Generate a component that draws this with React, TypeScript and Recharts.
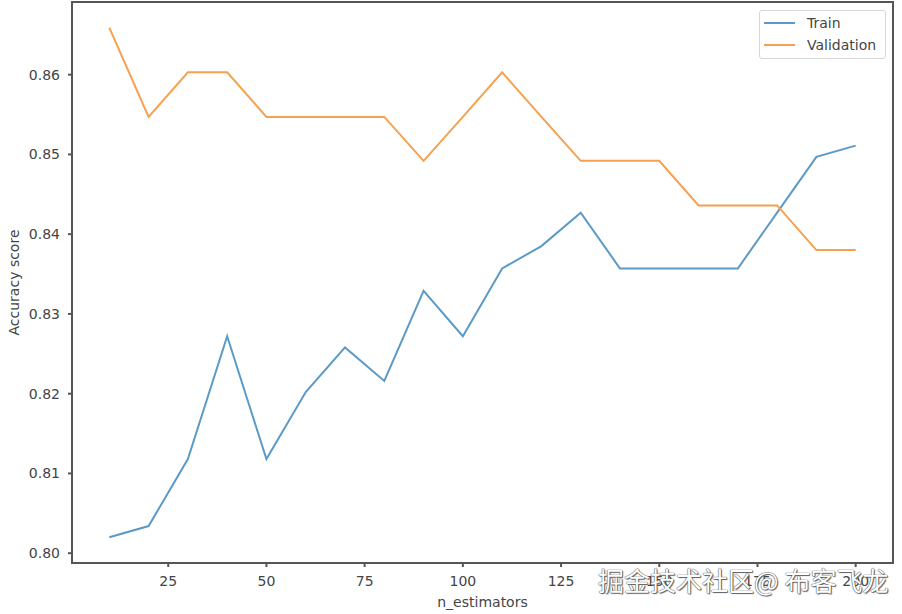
import { LineChart, Line, XAxis, YAxis, Legend, ReferenceArea } from 'recharts';

const nEstimators = [10, 20, 30, 40, 50, 60, 70, 80, 90, 100, 110, 120, 130, 140, 150, 160, 170, 180, 190, 200];
const trainScores = [
  0.802, 0.8034, 0.8118, 0.8272, 0.8118, 0.8202, 0.8258, 0.8216, 0.8329, 0.8272,
  0.8357, 0.8385, 0.8427, 0.8357, 0.8357, 0.8357, 0.8357, 0.8427, 0.8497, 0.8511,
];
const validationScores = [
  0.8659, 0.8547, 0.8603, 0.8603, 0.8547, 0.8547, 0.8547, 0.8547, 0.8492, 0.8547,
  0.8603, 0.8547, 0.8492, 0.8492, 0.8492, 0.8436, 0.8436, 0.8436, 0.838, 0.838,
];
const xTicks = [25, 50, 75, 100, 125, 150, 175, 200];
const yTicks = [0.8, 0.81, 0.82, 0.83, 0.84, 0.85, 0.86];

const X_DOMAIN: [number, number] = [0.5, 209.5];
const Y_DOMAIN: [number, number] = [0.79877, 0.86911];

const FONT = '"DejaVu Sans", sans-serif';
const TEXT = '#454545';
const SPINE = '#555555';
const BLUE = '#5b9ac6';
const ORANGE = '#f7a04f';

const renderLegend = (props: any) => {
  const items = props.payload || [];
  return (
    <div
      style={{
        width: 125,
        height: 47,
        border: '1px solid #d6d6d6',
        borderRadius: 3,
        background: 'rgba(255,255,255,0.8)',
        fontFamily: FONT,
        fontSize: 14,
        color: TEXT,
        position: 'relative',
      }}
    >
      {items.map((it: any, i: number) => (
        <div key={it.value} style={{ position: 'absolute', left: 4, top: 2 + i * 22, height: 20, display: 'flex', alignItems: 'center' }}>
          <span style={{ display: 'inline-block', width: 31, height: 2, background: it.color, marginRight: 12 }} />
          <span>{it.value}</span>
        </div>
      ))}
    </div>
  );
};

export default function App() {
  const data = nEstimators.map((n, i) => ({ n, train: trainScores[i], validation: validationScores[i] }));
  const tickStyle = { fill: TEXT, fontSize: 14, fontFamily: FONT };

  return (
    <div style={{ position: 'absolute', left: 0, top: 0, width: 902, height: 614, background: '#fff' }}>
      <LineChart width={902} height={614} data={data} margin={{ top: 2, right: 9, bottom: 0, left: 0 }}>
        <XAxis
          dataKey="n"
          type="number"
          domain={X_DOMAIN}
          allowDataOverflow
          ticks={xTicks}
          height={51}
          tickSize={4}
          tickMargin={9}
          stroke={SPINE}
          strokeWidth={2}
          tick={tickStyle}
          label={{
            content: ({ viewBox }: any) => (
              <text x={viewBox.x + viewBox.width / 2} y={607} textAnchor="middle" fill={TEXT} fontSize={14} fontFamily={FONT}>
                n_estimators
              </text>
            ),
          }}
        />
        <YAxis
          type="number"
          domain={Y_DOMAIN}
          allowDataOverflow
          ticks={yTicks}
          width={72}
          tickSize={4}
          tickMargin={8}
          stroke={SPINE}
          strokeWidth={2}
          tick={tickStyle}
          tickFormatter={(v: number) => v.toFixed(2)}
          label={{
            content: ({ viewBox }: any) => {
              const cy = viewBox.y + viewBox.height / 2;
              return (
                <text
                  x={14}
                  y={cy}
                  transform={`rotate(-90, 14, ${cy})`}
                  textAnchor="middle"
                  dominantBaseline="central"
                  fill={TEXT}
                  fontSize={14}
                  fontFamily={FONT}
                >
                  Accuracy score
                </text>
              );
            },
          }}
        />
        <ReferenceArea
          x1={X_DOMAIN[0]}
          x2={X_DOMAIN[1]}
          y1={Y_DOMAIN[0]}
          y2={Y_DOMAIN[1]}
          fill="none"
          stroke={SPINE}
          strokeWidth={2}
          fillOpacity={0}
        />
        <Line type="linear" dataKey="train" name="Train" stroke={BLUE} strokeWidth={2} dot={false} isAnimationActive={false} />
        <Line type="linear" dataKey="validation" name="Validation" stroke={ORANGE} strokeWidth={2} dot={false} isAnimationActive={false} />
        <Legend
          layout="horizontal"
          align="center"
          verticalAlign="middle"
          content={renderLegend}
          wrapperStyle={{ left: 759, top: 10, width: 127, height: 49 }}
        />
      </LineChart>
      <div
        style={{
          position: 'absolute',
          left: 598,
          top: 564,
          fontFamily: '"Noto Sans CJK SC", sans-serif',
          fontSize: 26,
          lineHeight: '32px',
          color: '#fff',
          whiteSpace: 'nowrap',
          textShadow: '0 0 1px #444, 0 0 1px #444, 1px 1px 1px #666',
        }}
      >
        掘金技术社区@ 布客飞龙
      </div>
    </div>
  );
}
